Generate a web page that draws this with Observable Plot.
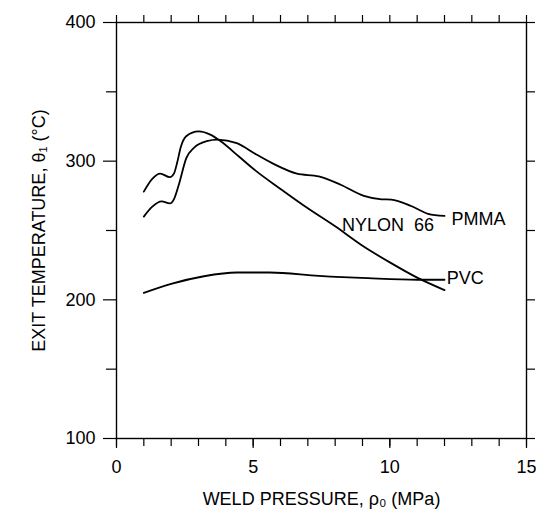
<!DOCTYPE html>
<html>
<head>
<meta charset="utf-8">
<script src="https://cdn.jsdelivr.net/npm/d3@7"></script>
<script src="https://cdn.jsdelivr.net/npm/@observablehq/plot@0.6"></script>
<style>
  html, body { margin: 0; padding: 0; background: #fff; }
  #chart svg { display: block; }
</style>
</head>
<body>
<div id="chart"></div>
<script>
// Weld pressure (MPa) vs exit temperature (°C)
const nylonX = [1.0, 1.3, 1.6, 1.95, 2.1, 2.22, 2.35, 2.55, 3.0, 3.45, 3.8, 4.5, 5.1, 6, 7, 8, 9, 10, 11, 12];
const nylonY = [278, 287, 291, 288.5, 291, 299, 310, 318, 321.5, 319, 314.5, 303, 293, 280, 266, 253, 239, 227, 216, 207];

const pmmaX = [1.0, 1.3, 1.65, 1.95, 2.1, 2.28, 2.55, 2.85, 3.3, 3.7, 4.4, 5.1, 5.8, 6.6, 7.4, 8.2, 9.05, 9.7, 10.05, 10.8, 11.4, 12];
const pmmaY = [260, 267, 271, 269.5, 272.5, 283, 302, 310, 314.5, 315.6, 313, 305, 297.5, 291, 289, 283, 275, 272.5, 272.3, 267.5, 262, 260.5];

const pvcX = [1.0, 2.0, 3.2, 4.4, 5.6, 7.4, 9.2, 11.0, 12.0];
const pvcY = [205, 211.5, 217, 219.7, 219.7, 217.3, 215.6, 214.5, 214.5];

const labelText = ["NYLON\u00a0\u00a066", "PMMA", "PVC"];
const labelX = [8.25, 12.26, 12.08];
const labelY = [253.6, 258, 215.5];

const xMajor = [0, 5, 10, 15];
const xMinor = d3.range(0, 16, 1);
const yMajor = [100, 200, 300, 400];
const yMinor = [150, 250, 350];
const yRight = d3.range(100, 401, 50);

const series = [
  {name: "NYLON 66", xs: nylonX, ys: nylonY},
  {name: "PMMA", xs: pmmaX, ys: pmmaY},
  {name: "PVC", xs: pvcX, ys: pvcY}
];
const rows = series.flatMap(s => s.xs.map((x, i) => ({series: s.name, x, y: s.ys[i]})));
const labels = labelText.map((t, i) => ({t, x: labelX[i], y: labelY[i]}));

const chart = Plot.plot({
  width: 536,
  height: 520,
  marginLeft: 116,
  marginRight: 10,
  marginTop: 22,
  marginBottom: 82,
  style: {fontFamily: "'Liberation Sans', Arial, Helvetica, sans-serif", fontSize: "18px", color: "#000", background: "#fff"},
  x: {domain: [0, 15]},
  y: {domain: [100, 400]},
  marks: [
    Plot.frame({stroke: "#000", strokeWidth: 1.4}),
    // bottom axis
    Plot.axisX({anchor: "bottom", ticks: xMinor, tickSize: 8, tickFormat: () => "", label: null, strokeWidth: 1.2}),
    Plot.axisX({anchor: "bottom", ticks: xMajor, tickSize: 10, tickPadding: 12, tickFormat: d => d, strokeWidth: 1.2,
      label: "WELD PRESSURE, ρ₀ (MPa)", labelAnchor: "center", labelOffset: 66, labelArrow: "none"}),
    // top axis
    Plot.axisX({anchor: "top", ticks: xMinor, tickSize: 8, tickFormat: () => "", label: null, strokeWidth: 1.2}),
    // left axis
    Plot.axisY({anchor: "left", ticks: yMinor, tickSize: 10, tickFormat: () => "", label: null, strokeWidth: 1.2}),
    Plot.axisY({anchor: "left", ticks: yMajor, tickSize: 13, tickPadding: 8, tickFormat: d => d, strokeWidth: 1.2,
      label: "EXIT TEMPERATURE, θ₁ (°C)", labelAnchor: "center", labelOffset: 84, labelArrow: "none"}),
    // right axis
    Plot.axisY({anchor: "right", ticks: yRight, tickSize: 8, tickFormat: () => "", label: null, strokeWidth: 1.2}),
    // curves
    Plot.line(rows, {x: "x", y: "y", z: "series", curve: "monotone-x", stroke: "#000", strokeWidth: 1.8}),
    // labels
    Plot.text(labels, {x: "x", y: "y", text: "t", textAnchor: "start", fontSize: 18, fill: "#000"})
  ]
});
document.getElementById("chart").appendChild(chart);
</script>
</body>
</html>
